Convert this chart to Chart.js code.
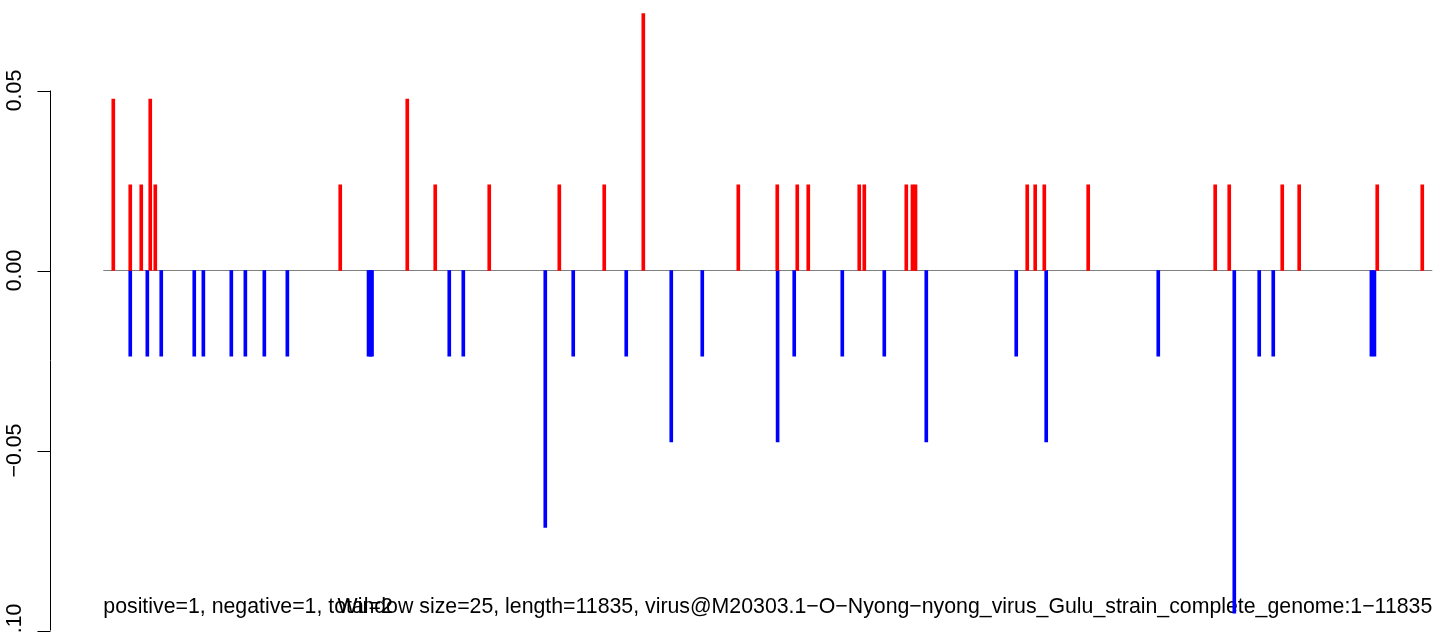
<!DOCTYPE html>
<html>
<head>
<meta charset="utf-8">
<script src="https://cdn.jsdelivr.net/npm/chart.js@4/dist/chart.umd.min.js"></script>
<style>
html,body{margin:0;padding:0;background:#fff;overflow:hidden;}
#c{display:block;}
</style>
</head>
<body>
<canvas id="c" width="1452" height="634"></canvas>
<script>
// ---- data (genome position of window, fraction) ----
const positivePositions = [89,240,338,418,463,2110,2707,2956,3437,4061,4461,4809,5655,6002,6180,6278,6732,6777,7151,7206,7233,8228,8299,8380,8771,9902,10027,10499,10650,11345,11746];
const positiveValues    = [0.0476,0.0238,0.0238,0.0476,0.0238,0.0238,0.0476,0.0238,0.0238,0.0238,0.0238,0.0714,0.0238,0.0238,0.0238,0.0238,0.0238,0.0238,0.0238,0.0238,0.0238,0.0238,0.0238,0.0238,0.0238,0.0238,0.0238,0.0238,0.0238,0.0238,0.0238];
const negativePositions = [240,392,516,810,891,1140,1265,1434,1639,2362,2379,2393,3081,3206,3936,4185,4657,5058,5334,6005,6153,6581,6955,7329,8130,8397,9395,10072,10294,10419,11293,11320];
const negativeValues    = [-0.0238,-0.0238,-0.0238,-0.0238,-0.0238,-0.0238,-0.0238,-0.0238,-0.0238,-0.0238,-0.0238,-0.0238,-0.0238,-0.0238,-0.0714,-0.0238,-0.0238,-0.0476,-0.0238,-0.0476,-0.0238,-0.0238,-0.0238,-0.0476,-0.0238,-0.0476,-0.0238,-0.0952,-0.0238,-0.0238,-0.0238,-0.0238];
const genomeStart = 0;
const genomeLength = 11835;
const yTicks = [0.05, 0.00, -0.05, -0.10];
const yTickLabels = ["0.05", "0.00", "\u22120.05", "\u22120.10"];
const leftNote = "positive=1, negative=1, total=2";
const rightNote = "Window size=25, length=11835, virus@M20303.1\u2212O\u2212Nyong\u2212nyong_virus_Gulu_strain_complete_genome:1\u221211835";
const noteY = -0.0952;

const FONT = '21.3px "Liberation Sans", Arial, sans-serif';

const rAxisPlugin = {
  id: 'rAxis',
  beforeDatasetsDraw(chart) {
    const ctx = chart.ctx, xs = chart.scales.x, ys = chart.scales.y;
    ctx.save();
    ctx.font = FONT;
    ctx.fillStyle = '#000';
    ctx.textBaseline = 'alphabetic';
    const ty = ys.getPixelForValue(noteY);
    ctx.textAlign = 'left';
    ctx.fillText(leftNote, xs.getPixelForValue(genomeStart), ty);
    ctx.textAlign = 'right';
    ctx.fillText(rightNote, xs.getPixelForValue(genomeLength), ty);
    ctx.restore();
  },
  afterDraw(chart) {
    const ctx = chart.ctx, ys = chart.scales.y;
    const ax = Math.round(chart.chartArea.left) - 0.5;
    ctx.save();
    ctx.strokeStyle = '#000';
    ctx.lineWidth = 1;
    ctx.beginPath();
    const yTop = ys.getPixelForValue(yTicks[0]);
    const yBot = ys.getPixelForValue(yTicks[yTicks.length - 1]);
    ctx.moveTo(ax, yTop); ctx.lineTo(ax, yBot);
    yTicks.forEach(v => {
      const y = Math.round(ys.getPixelForValue(v)) + 0.5;
      ctx.moveTo(ax - 13, y); ctx.lineTo(ax, y);
    });
    ctx.stroke();
    ctx.font = FONT;
    ctx.fillStyle = '#000';
    ctx.textAlign = 'center';
    ctx.textBaseline = 'alphabetic';
    yTicks.forEach((v, i) => {
      const y = ys.getPixelForValue(v);
      ctx.save();
      ctx.translate(21, y);
      ctx.rotate(-Math.PI / 2);
      ctx.fillText(yTickLabels[i], 0, 0);
      ctx.restore();
    });
    ctx.restore();
  }
};

new Chart(document.getElementById('c'), {
  type: 'bar',
  data: {
    datasets: [
      {
        type: 'line',
        data: [{x: genomeStart, y: 0}, {x: genomeLength, y: 0}],
        borderColor: '#808080',
        borderWidth: 1,
        pointRadius: 0,
        order: 3
      },
      {
        data: positivePositions.map((p, i) => ({x: p, y: positiveValues[i]})),
        backgroundColor: '#FF0000',
        barThickness: 3,
        grouped: false,
        borderWidth: 0,
        order: 1
      },
      {
        data: negativePositions.map((p, i) => ({x: p, y: negativeValues[i]})),
        backgroundColor: '#0000FF',
        barThickness: 3,
        grouped: false,
        borderWidth: 0,
        order: 2
      }
    ]
  },
  options: {
    responsive: false,
    animation: false,
    layout: { padding: { left: 51, right: 0, top: 0, bottom: 0 } },
    plugins: { legend: { display: false }, tooltip: { enabled: false } },
    scales: {
      x: { type: 'linear', display: false, offset: false, min: -465.8, max: 12010.8 },
      y: { type: 'linear', display: false, min: -0.100972, max: 0.075139 }
    }
  },
  plugins: [rAxisPlugin]
});
</script>
</body>
</html>
